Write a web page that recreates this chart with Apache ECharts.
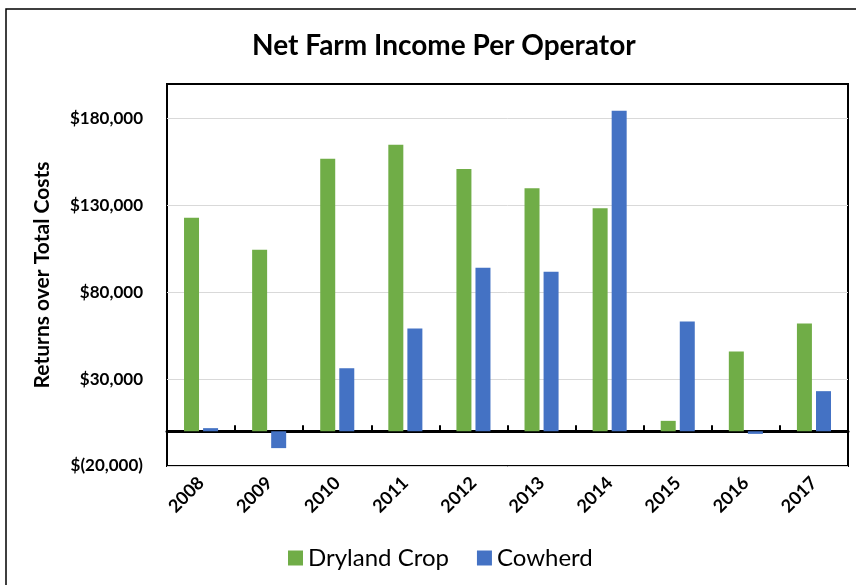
<!DOCTYPE html>
<html>
<head>
<meta charset="utf-8">
<script src="https://cdn.jsdelivr.net/npm/echarts@6/dist/echarts.min.js"></script>
<style>html,body{margin:0;padding:0;background:#fff;}#c{width:856px;height:585px;}</style>
</head>
<body>
<div id="c"></div>
<script>
const years = ['2008','2009','2010','2011','2012','2013','2014','2015','2016','2017'];
const dryland = [123000, 104500, 157000, 165000, 151000, 140000, 128500, 6000, 46000, 62000];
const cowherd = [1800, -9700, 36300, 59200, 94200, 91900, 184600, 63200, -1500, 23100];
const yTicks = [-20000, 30000, 80000, 130000, 180000];

function fmt(v){
  return '$' + (v < 0 ? '(' : '') + Math.abs(v).toLocaleString('en-US') + (v < 0 ? ')' : '');
}
const FONT = 'Lato';
const chart = echarts.init(document.getElementById('c'));
chart.setOption({
  animation: false,
  backgroundColor: '#fff',
  graphic: [{
    type: 'rect', shape: {x: 6, y: 9, width: 900, height: 620},
    style: {fill: 'none', stroke: '#000', lineWidth: 1.5}, z: -10
  }],
  title: {
    text: 'Net Farm Income Per Operator', left: 247, top: 27,
    textStyle: {fontFamily: FONT, fontWeight: 'bold', fontSize: 28, color: '#000'}
  },
  legend: {
    bottom: 10, left: 283, itemWidth: 15, itemHeight: 15, itemGap: 28,
    icon: 'rect',
    textStyle: {fontFamily: FONT, fontSize: 24, color: '#000'}
  },
  grid: {left: 167, top: 84, right: 8, bottom: 119, show: true, borderColor: '#000', borderWidth: 2, containLabel: false},
  xAxis: [{
    type: 'category', data: years,
    axisLine: {onZero: true, lineStyle: {color: '#000', width: 3}},
    axisTick: {show: true, inside: true, length: 6, interval: 0, lineStyle: {color: '#000', width: 2}},
    axisLabel: {show: false}, splitLine: {show: false}
  }, {
    type: 'category', data: years, position: 'bottom',
    axisLine: {show: false, onZero: false}, axisTick: {show: false},
    axisLabel: {show: true, interval: 0, rotate: 45, margin: 14, fontFamily: FONT, fontWeight: 'bold', fontSize: 18, color: '#000'}
  }],
  yAxis: {
    type: 'value', min: -20000, max: 200000,
    name: 'Returns over Total Costs', nameLocation: 'middle', nameGap: 114, nameRotate: 90,
    nameTextStyle: {fontFamily: FONT, fontWeight: 'bold', fontSize: 21, color: '#000'},
    axisLine: {show: false},
    axisTick: {show: false, customValues: yTicks},
    axisLabel: {customValues: yTicks, formatter: fmt, margin: 24, fontFamily: FONT, fontWeight: 'bold', fontSize: 17, color: '#000'},
    splitLine: {show: true, lineStyle: {color: '#d9d9d9', width: 1}}
  },
  series: [{
    name: 'Dryland Crop', type: 'bar', data: dryland, xAxisIndex: 0,
    barWidth: 15, barGap: '27%', itemStyle: {color: '#70AD47'}
  }, {
    name: 'Cowherd', type: 'bar', data: cowherd, xAxisIndex: 0,
    barWidth: 15, barGap: '27%', itemStyle: {color: '#4472C4'}
  }]
});
</script>
</body>
</html>
